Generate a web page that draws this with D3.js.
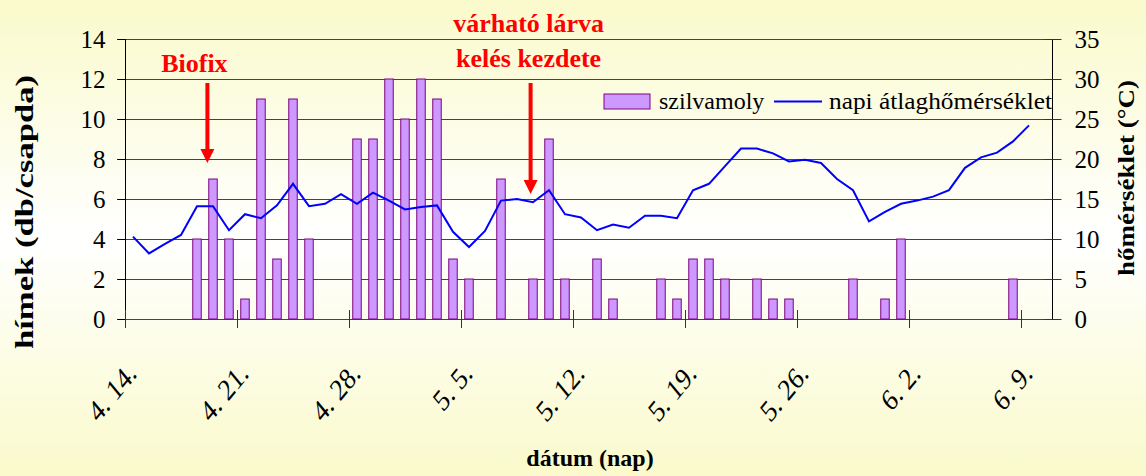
<!DOCTYPE html>
<html>
<head>
<meta charset="utf-8">
<script src="https://cdn.jsdelivr.net/npm/d3@7/dist/d3.min.js"></script>
<style>
    body { margin: 0; }
    svg { display: block; font-family: "Liberation Serif", "Times New Roman", serif; }
</style>
</head>
<body>
<div id="chart"></div>
<script>
// napok: 4. 14. - 6. 10.
const days = d3.timeDays(new Date(2000, 3, 14), new Date(2000, 5, 11))
const dateLabels = days.map(d => `${d.getMonth() + 1}. ${d.getDate()}.`)
const shownLabels = ['4. 14.', '4. 21.', '4. 28.', '5. 5.', '5. 12.', '5. 19.', '5. 26.', '6. 2.', '6. 9.']

// szilvamoly hímek (db/csapda), naponta
const himek = [null, null, null, null, 4, 7, 4, 1, 11, 3, 11, 4, null, null,
    9, 9, 12, 10, 12, 11, 3, 2, null, 7, null, 2, 9, 2, null, 3, 1, null, null,
    2, 1, 3, 3, 2, null, 2, 1, 1, null, null, null, 2, null, 1, 4,
    null, null, null, null, null, null, 2, null, null]

// napi átlaghőmérséklet (°C)
const homerseklet = [10.3, 8.2, 9.4, 10.5, 14.1, 14.1, 11.1, 13.1, 12.6, 14.2, 16.9, 14.1,
    14.4, 15.6, 14.4, 15.8, 14.8, 13.7, 14.0, 14.2, 10.9, 9.0, 11.0, 14.8, 15.0, 14.6,
    16.1, 13.1, 12.7, 11.1, 11.8, 11.4, 12.9, 12.9, 12.6, 16.1, 16.9, 19.1, 21.3, 21.3,
    20.7, 19.7, 19.9, 19.5, 17.5, 16.1, 12.2, 13.4, 14.4, 14.8, 15.3, 16.1, 18.9, 20.2,
    20.8, 22.2, 24.2, null]

const leftTicks = [0, 2, 4, 6, 8, 10, 12, 14]
const rightTicks = [0, 5, 10, 15, 20, 25, 30, 35]

// nyilak: nap-index (tört), nyíl hegye a bal tengelyen
const annotations = [
    { lines: ['Biofix'], pos: 5.15, tip: 7.8, textDx: -13 },
    { lines: ['várható lárva', 'kelés kezdete'], pos: 25.35, tip: 6.25, textDx: -2 },
]

const W = 1146, H = 476
const plot = { left: 125, right: 1053, top: 39, bottom: 319 }
const FONT = '"Liberation Serif", "Times New Roman", serif'

const svg = d3.select('#chart').append('svg')
    .attr('width', W)
    .attr('height', H)
    .attr('font-family', FONT)

const grad = svg.append('defs').append('linearGradient')
    .attr('id', 'bg')
    .attr('gradientUnits', 'userSpaceOnUse')
    .attr('x1', 0).attr('y1', 0).attr('x2', 0).attr('y2', H)
grad.append('stop').attr('offset', '0%').attr('stop-color', '#fafacc')
grad.append('stop').attr('offset', '50%').attr('stop-color', '#ffffff')
grad.append('stop').attr('offset', '100%').attr('stop-color', '#fafacc')

svg.append('rect').attr('width', W).attr('height', H).attr('fill', 'url(#bg)')

const x = d3.scaleBand()
    .domain(dateLabels)
    .range([plot.left, plot.right])
    .paddingInner(0.47)
    .paddingOuter(0.235)
const step = x.step()
const xIdx = d3.scaleLinear().domain([0, dateLabels.length]).range([plot.left, plot.right])
const yL = d3.scaleLinear().domain([0, 14]).range([plot.bottom, plot.top])
const yR = d3.scaleLinear().domain([0, 35]).range([plot.bottom, plot.top])
const cx = d => x(d) + x.bandwidth() / 2

// rácsvonalak
svg.append('g').selectAll('line')
    .data(leftTicks)
    .enter().append('line')
        .attr('x1', plot.left - 8)
        .attr('x2', plot.right)
        .attr('y1', d => Math.round(yL(d)) + 0.5)
        .attr('y2', d => Math.round(yL(d)) + 0.5)
        .attr('stroke', '#444')

// jelmagyarázat háttere
svg.append('rect')
    .attr('x', 596).attr('y', 81)
    .attr('width', plot.right - 596).attr('height', 37)
    .attr('fill', 'url(#bg)')

// oszlopok
svg.append('g').selectAll('rect')
    .data(dateLabels.map((d, i) => ({ d, v: himek[i] })).filter(b => b.v != null))
    .enter().append('rect')
        .attr('x', b => x(b.d))
        .attr('y', b => yL(b.v))
        .attr('width', x.bandwidth())
        .attr('height', b => yL(0) - yL(b.v))
        .attr('fill', '#cc99ff')
        .attr('stroke', '#800080')
        .attr('stroke-width', 1)

// hőmérséklet vonal
const line = d3.line()
    .defined(d => d.v != null)
    .x(d => cx(d.d))
    .y(d => yR(d.v))
svg.append('path')
    .datum(dateLabels.map((d, i) => ({ d, v: homerseklet[i] })))
    .attr('d', line)
    .attr('fill', 'none')
    .attr('stroke', '#0000ff')
    .attr('stroke-width', 2)

// bal tengely
const leftAxis = svg.append('g')
    .attr('transform', `translate(${plot.left + 0.5},0)`)
    .call(d3.axisLeft(yL).tickValues(leftTicks).tickSize(8).tickPadding(12))
leftAxis.attr('font-family', FONT)
leftAxis.select('.domain').attr('d', `M0,${plot.top}V${plot.bottom + 9}`).attr('stroke', '#000')
leftAxis.selectAll('.tick line').attr('stroke', '#000')
leftAxis.selectAll('.tick text')
    .attr('font-size', 25)
    .attr('fill', '#000')

// jobb tengely
const rightAxis = svg.append('g')
    .attr('transform', `translate(${plot.right - 0.5},0)`)
    .call(d3.axisRight(yR).tickValues(rightTicks).tickSize(9).tickPadding(13))
rightAxis.attr('font-family', FONT)
rightAxis.select('.domain').attr('d', `M0,${plot.top}V${plot.bottom}`).attr('stroke', '#000')
rightAxis.selectAll('.tick line').attr('x1', -8).attr('stroke', '#333')
rightAxis.selectAll('.tick text')
    .attr('font-size', 25)
    .attr('fill', '#000')

// x tengely jelölők és feliratok
svg.append('g').selectAll('line')
    .data(shownLabels)
    .enter().append('line')
        .attr('x1', d => Math.round(cx(d) - step / 2) + 0.5)
        .attr('x2', d => Math.round(cx(d) - step / 2) + 0.5)
        .attr('y1', plot.bottom - 9)
        .attr('y2', plot.bottom + 9)
        .attr('stroke', '#333')

svg.append('g').selectAll('text')
    .data(shownLabels)
    .enter().append('text')
        .attr('transform', d => `translate(${cx(d) + 5},${plot.bottom + 56}) scale(1,1.22) rotate(-45)`)
        .attr('text-anchor', 'end')
        .attr('font-size', 25)
        .text(d => d)

// tengelycímek
svg.append('text')
    .attr('x', 590).attr('y', 466)
    .attr('text-anchor', 'middle')
    .attr('font-size', 24).attr('font-weight', 'bold')
    .text('dátum (nap)')

svg.append('text')
    .attr('transform', 'translate(33,212) rotate(-90)')
    .attr('text-anchor', 'middle')
    .attr('font-size', 26).attr('font-weight', 'bold')
    .attr('textLength', 274).attr('lengthAdjust', 'spacingAndGlyphs')
    .text('hímek (db/csapda)')

svg.append('text')
    .attr('transform', 'translate(1134,178) rotate(-90)')
    .attr('text-anchor', 'middle')
    .attr('font-size', 23).attr('font-weight', 'bold')
    .attr('textLength', 196).attr('lengthAdjust', 'spacingAndGlyphs')
    .text('hőmérséklet (°C)')

// jelmagyarázat
const legend = svg.append('g')
legend.append('rect')
    .attr('x', 604).attr('y', 94).attr('width', 46).attr('height', 15)
    .attr('fill', '#cc99ff').attr('stroke', '#800080')
legend.append('text').attr('x', 659).attr('y', 109).attr('font-size', 24).text('szilvamoly')
legend.append('line')
    .attr('x1', 774).attr('x2', 822).attr('y1', 101.5).attr('y2', 101.5)
    .attr('stroke', '#0000ff').attr('stroke-width', 2)
legend.append('text').attr('x', 829).attr('y', 109).attr('font-size', 24)
    .attr('textLength', 223).attr('lengthAdjust', 'spacingAndGlyphs')
    .text('napi átlaghőmérséklet')

// nyilak és feliratok
annotations.forEach(a => {
    const ax = xIdx(a.pos)
    const tipY = yL(a.tip)
    const g = svg.append('g')
    g.append('line')
        .attr('x1', ax).attr('x2', ax)
        .attr('y1', yL(11.8)).attr('y2', tipY - 12)
        .attr('stroke', '#ff0000').attr('stroke-width', 4)
    g.append('path')
        .attr('d', `M${ax - 7},${tipY - 14}L${ax + 7},${tipY - 14}L${ax},${tipY}Z`)
        .attr('fill', '#ff0000')
    const baseY = a.lines.length === 1 ? 72 : 32
    a.lines.forEach((t, i) => {
        g.append('text')
            .attr('x', ax + a.textDx)
            .attr('y', baseY + i * 35)
            .attr('text-anchor', 'middle')
            .attr('font-size', 26).attr('font-weight', 'bold')
            .attr('fill', '#ff0000')
            .text(t)
    })
})
</script>
</body>
</html>
